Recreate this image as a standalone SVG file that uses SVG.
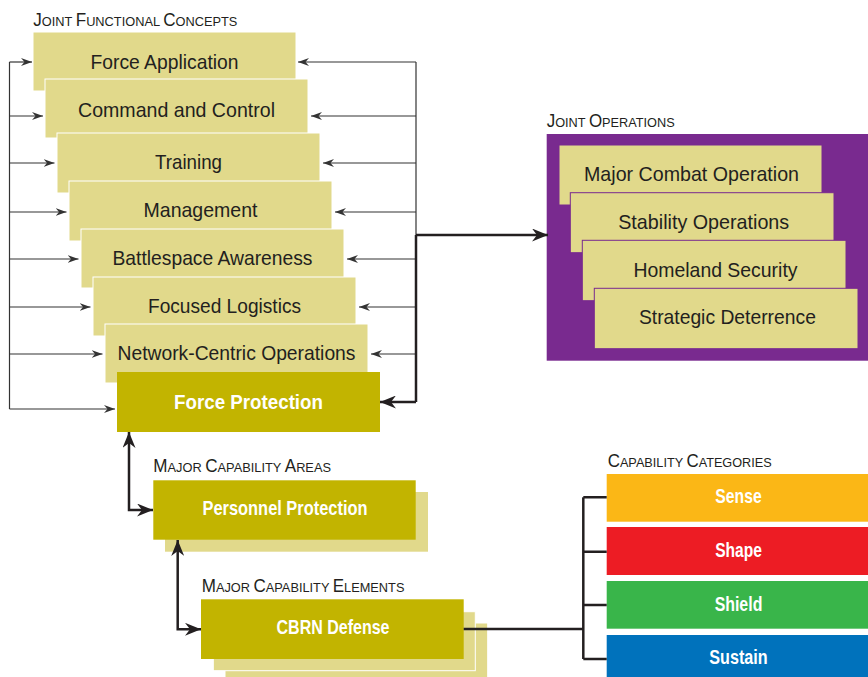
<svg xmlns="http://www.w3.org/2000/svg" width="868" height="677" viewBox="0 0 868 677">
<style>
.lt{fill:#E1D98B;stroke:#FFFFFF;stroke-width:1}
.ltp{fill:#E1D98B;stroke:#792A8F;stroke-width:1}
.dk{fill:#C2B400}
.t{font-family:"Liberation Sans",Arial,sans-serif;font-size:21px;fill:#231F20;text-anchor:middle}
.tb{font-family:"Liberation Sans",Arial,sans-serif;font-size:21px;font-weight:bold;fill:#FFFFFF;text-anchor:middle}
.h{font-family:"Liberation Sans",Arial,sans-serif;fill:#231F20}
.h .b{font-size:18px}
.h .s{font-size:13.5px}
.thin{fill:none;stroke:#333333;stroke-width:1.2}
.thick{fill:none;stroke:#231F20;stroke-width:2.5}
</style>
<defs>
<marker id="a1" viewBox="0 0 11 8" refX="11" refY="4" markerWidth="11" markerHeight="8" markerUnits="userSpaceOnUse" orient="auto-start-reverse">
<path d="M0,0 L11,4 L0,8 L3.5,4 Z" fill="#333333"/>
</marker>
<marker id="a2" viewBox="0 0 16 13" refX="16" refY="6.5" markerWidth="16" markerHeight="13" markerUnits="userSpaceOnUse" orient="auto-start-reverse">
<path d="M0,0 L16,6.5 L0,13 L5,6.5 Z" fill="#231F20"/>
</marker>
</defs>

<text class="h" x="33.3" y="25.7" textLength="204" lengthAdjust="spacingAndGlyphs"><tspan class="b">J</tspan><tspan class="s">OINT </tspan><tspan class="b">F</tspan><tspan class="s">UNCTIONAL </tspan><tspan class="b">C</tspan><tspan class="s">ONCEPTS</tspan></text>

<g id="jfc-force-application"><rect class="lt" x="33" y="32" width="263" height="59"/><text class="t" x="164.5" y="69" textLength="148" lengthAdjust="spacingAndGlyphs">Force Application</text></g>
<g id="jfc-command-control"><rect class="lt" x="45" y="79" width="263" height="59"/><text class="t" x="176.5" y="117" textLength="197" lengthAdjust="spacingAndGlyphs">Command and Control</text></g>
<g id="jfc-training"><rect class="lt" x="57" y="133" width="263" height="60"/><text class="t" x="188.5" y="169.3" textLength="67" lengthAdjust="spacingAndGlyphs">Training</text></g>
<g id="jfc-management"><rect class="lt" x="69" y="181" width="263" height="60"/><text class="t" x="200.5" y="216.7" textLength="114" lengthAdjust="spacingAndGlyphs">Management</text></g>
<g id="jfc-battlespace"><rect class="lt" x="81" y="229" width="263" height="59"/><text class="t" x="212.5" y="265" textLength="200" lengthAdjust="spacingAndGlyphs">Battlespace Awareness</text></g>
<g id="jfc-logistics"><rect class="lt" x="93" y="277" width="263" height="59"/><text class="t" x="224.5" y="312.7" textLength="153" lengthAdjust="spacingAndGlyphs">Focused Logistics</text></g>
<g id="jfc-netcentric"><rect class="lt" x="105" y="324" width="263" height="59"/><text class="t" x="236.5" y="360" textLength="238" lengthAdjust="spacingAndGlyphs">Network-Centric Operations</text></g>
<g id="jfc-force-protection"><rect class="dk" x="117" y="372" width="263" height="60"/><text class="tb" x="248.5" y="408.7" textLength="149" lengthAdjust="spacingAndGlyphs">Force Protection</text></g>

<g id="joint-operations">
<text class="h" x="546.7" y="126.7" textLength="128" lengthAdjust="spacingAndGlyphs"><tspan class="b">J</tspan><tspan class="s">OINT </tspan><tspan class="b">O</tspan><tspan class="s">PERATIONS</tspan></text>
<rect x="546.7" y="134" width="321.3" height="226.7" fill="#792A8F"/>
</g>
<g id="jo-major-combat"><rect class="ltp" x="559" y="145" width="263" height="60"/><text class="t" x="691.5" y="181.3" textLength="215" lengthAdjust="spacingAndGlyphs">Major Combat Operation</text></g>
<g id="jo-stability"><rect class="ltp" x="570.3" y="192.7" width="263.7" height="60"/><text class="t" x="703.7" y="229" textLength="171" lengthAdjust="spacingAndGlyphs">Stability Operations</text></g>
<g id="jo-homeland"><rect class="ltp" x="582.3" y="240.3" width="263.7" height="60.4"/><text class="t" x="715.5" y="276.7" textLength="164" lengthAdjust="spacingAndGlyphs">Homeland Security</text></g>
<g id="jo-strategic"><rect class="ltp" x="594.3" y="288.3" width="263.7" height="60.4"/><text class="t" x="727.4" y="324.3" textLength="177" lengthAdjust="spacingAndGlyphs">Strategic Deterrence</text></g>

<g id="personnel-protection">
<text class="h" x="153.3" y="472.3" textLength="177.7" lengthAdjust="spacingAndGlyphs"><tspan class="b">M</tspan><tspan class="s">AJOR </tspan><tspan class="b">C</tspan><tspan class="s">APABILITY </tspan><tspan class="b">A</tspan><tspan class="s">REAS</tspan></text>
<rect x="165" y="492" width="263" height="59.7" fill="#E1D98B"/>
<rect class="dk" x="153.3" y="480.3" width="262.4" height="59.4"/>
<text class="tb" x="285" y="515" textLength="165" lengthAdjust="spacingAndGlyphs">Personnel Protection</text>
</g>

<g id="cbrn-defense">
<text class="h" x="201.7" y="591.7" textLength="202.7" lengthAdjust="spacingAndGlyphs"><tspan class="b">M</tspan><tspan class="s">AJOR </tspan><tspan class="b">C</tspan><tspan class="s">APABILITY </tspan><tspan class="b">E</tspan><tspan class="s">LEMENTS</tspan></text>
<rect class="lt" x="225" y="623" width="262.7" height="60"/>
<rect class="lt" x="213.3" y="611.7" width="262" height="59"/>
<rect class="dk" x="201" y="599.3" width="262.7" height="59.7"/>
<text class="tb" x="333" y="634.3" textLength="113" lengthAdjust="spacingAndGlyphs">CBRN Defense</text>
</g>

<text class="h" x="607.7" y="466.7" textLength="164" lengthAdjust="spacingAndGlyphs"><tspan class="b">C</tspan><tspan class="s">APABILITY </tspan><tspan class="b">C</tspan><tspan class="s">ATEGORIES</tspan></text>
<g id="cat-sense"><rect x="606.7" y="474" width="261.3" height="47.7" fill="#FBB716"/><text class="tb" x="738.5" y="502.7" textLength="46.3" lengthAdjust="spacingAndGlyphs">Sense</text></g>
<g id="cat-shape"><rect x="606.7" y="527" width="261.3" height="48" fill="#ED1C24"/><text class="tb" x="738.5" y="556.7" textLength="46.7" lengthAdjust="spacingAndGlyphs">Shape</text></g>
<g id="cat-shield"><rect x="606.7" y="581" width="261.3" height="47.7" fill="#39B54A"/><text class="tb" x="738.5" y="610.7" textLength="47.7" lengthAdjust="spacingAndGlyphs">Shield</text></g>
<g id="cat-sustain"><rect x="606.7" y="635" width="261.3" height="42" fill="#0072BC"/><text class="tb" x="738.5" y="664" textLength="58.3" lengthAdjust="spacingAndGlyphs">Sustain</text></g>

<g id="connectors">
<path class="thin" d="M9.5,62 V409"/>
<path class="thin" marker-end="url(#a1)" d="M9.5,62 H32"/>
<path class="thin" marker-end="url(#a1)" d="M9.5,116 H43"/>
<path class="thin" marker-end="url(#a1)" d="M9.5,163 H54.5"/>
<path class="thin" marker-end="url(#a1)" d="M9.5,212 H66.5"/>
<path class="thin" marker-end="url(#a1)" d="M9.5,259 H78.5"/>
<path class="thin" marker-end="url(#a1)" d="M9.5,307 H90.5"/>
<path class="thin" marker-end="url(#a1)" d="M9.5,354 H102.5"/>
<path class="thin" marker-end="url(#a1)" d="M9.5,409 H115"/>

<path class="thin" d="M416,62 V235"/>
<path class="thin" marker-end="url(#a1)" d="M416,62 H298"/>
<path class="thin" marker-end="url(#a1)" d="M416,116 H311"/>
<path class="thin" marker-end="url(#a1)" d="M416,163 H323"/>
<path class="thin" marker-end="url(#a1)" d="M416,212 H335"/>
<path class="thin" marker-end="url(#a1)" d="M416,259 H347"/>
<path class="thin" marker-end="url(#a1)" d="M416,307 H359"/>
<path class="thin" marker-end="url(#a1)" d="M416,354 H371"/>
<path class="thick" d="M416,235 V402"/>
<path class="thick" marker-end="url(#a2)" d="M416,402 H380"/>
<path class="thick" marker-end="url(#a2)" d="M416,235 H548"/>

<path class="thick" marker-start="url(#a2)" marker-end="url(#a2)" d="M129,432 V510 H153"/>
<path class="thick" marker-start="url(#a2)" marker-end="url(#a2)" d="M177.7,540 V629.3 H201"/>

<path class="thick" d="M463.7,629 H583.3"/>
<path class="thick" d="M583.3,497.3 V659"/>
<path class="thick" d="M583.3,497.3 H606.7 M583.3,551.7 H606.7 M583.3,605 H606.7 M583.3,659 H606.7"/>
</g>
</svg>
